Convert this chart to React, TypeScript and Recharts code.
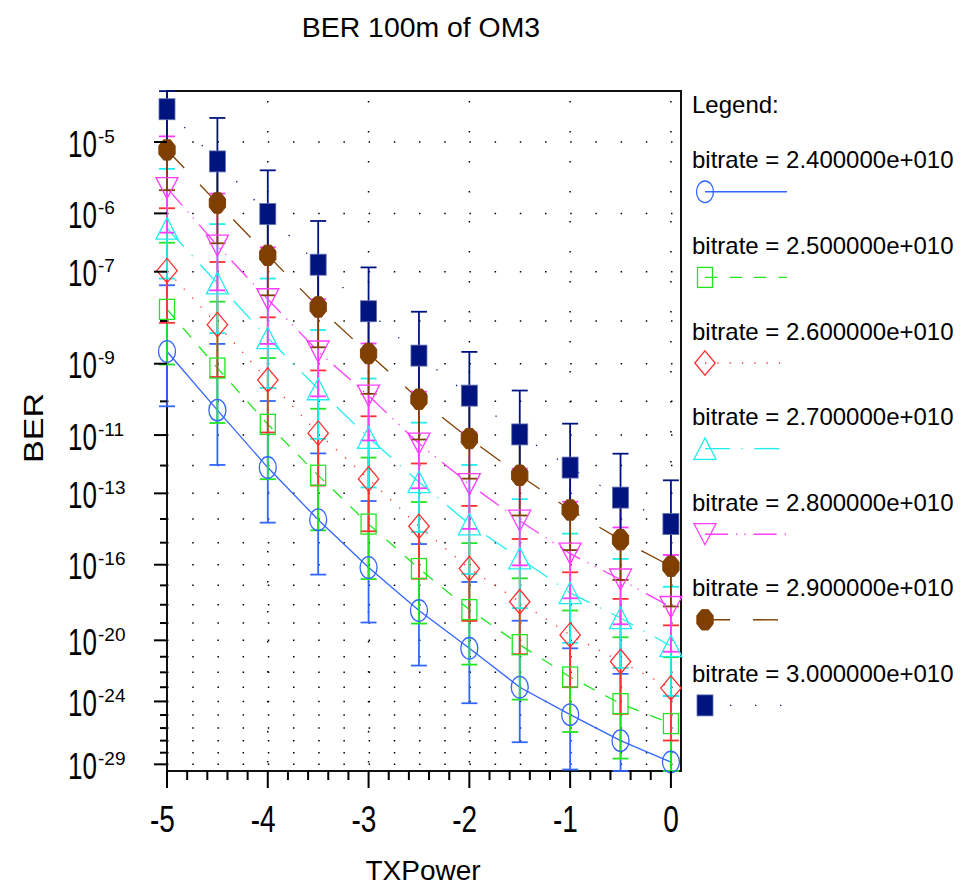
import React from 'react';
import { LineChart, Line, XAxis, YAxis, CartesianGrid, ErrorBar, ReferenceArea } from 'recharts';

const txPower = [-5, -4.5, -4, -3.5, -3, -2.5, -2, -1.5, -1, -0.5, 0];

// log10(BER), one list per bitrate
const logBer24 = [-8.7, -10.25, -12.07, -14.03, -16.13, -18.31, -20.48, -23.0, -24.97, -27.0, -28.8];
const logBer25 = [-7.75, -9.11, -10.67, -12.34, -14.21, -16.18, -18.26, -20.26, -22.31, -24.16, -25.65];
const logBer26 = [-6.98, -8.08, -9.42, -10.94, -12.47, -14.3, -16.18, -17.84, -19.68, -21.3, -23.06];
const logBer27 = [-6.24, -7.22, -8.38, -9.66, -11.08, -12.58, -14.21, -15.7, -17.38, -18.72, -20.34];
const logBer28 = [-5.62, -6.53, -7.54, -8.7, -9.84, -11.27, -12.66, -14.07, -15.49, -16.71, -18.12];
const logBer29 = [-5.1, -5.84, -6.7, -7.7, -8.75, -9.94, -11.11, -12.34, -13.64, -14.87, -16.07];
const logBer30 = [-4.61, -5.25, -6.01, -6.87, -7.79, -8.8, -9.84, -10.98, -12.07, -13.16, -14.21];

// error bar half length, in decades
const err24 = [1.44, 1.73, 2.08, 2.44, 2.84, 3.25, 3.65, 4.13, 4.49, 4.9, 5.2];
const err25 = [1.27, 1.52, 1.81, 2.13, 2.48, 2.85, 3.24, 3.61, 4.0, 4.34, 4.62];
const err26 = [1.06, 1.26, 1.5, 1.77, 2.04, 2.37, 2.7, 3.0, 3.32, 3.61, 3.93];
const err27 = [0.89, 1.05, 1.25, 1.46, 1.7, 1.96, 2.23, 2.48, 2.77, 2.99, 3.27];
const err28 = [0.69, 0.83, 0.98, 1.16, 1.33, 1.54, 1.75, 1.96, 2.17, 2.36, 2.57];
const err29 = [0.55, 0.65, 0.76, 0.9, 1.04, 1.2, 1.35, 1.52, 1.69, 1.86, 2.02];
const err30 = [0.46, 0.54, 0.64, 0.75, 0.87, 1.0, 1.13, 1.28, 1.42, 1.56, 1.69];

const xTicks = [-5, -4.8, -4.6, -4.4, -4.2, -4, -3.8, -3.6, -3.4, -3.2, -3, -2.8, -2.6, -2.4, -2.2, -2, -1.8, -1.6, -1.4, -1.2, -1, -0.8, -0.6, -0.4, -0.2, 0];
const xGridValues = [-5, -4, -3, -2, -1, 0];
const berTickExps = [-5, -6, -7, -8, -9, -10, -11, -12, -13, -14, -15, -16, -17, -18, -19, -20, -21, -22, -23, -24, -25, -26, -27, -28, -29];
const labeledExps = [-5, -6, -7, -9, -11, -13, -16, -20, -24, -29];
// visible window of the BER axis (log10)
const yRangeExp = [-29.59, -4.41];

const FONT = '"Liberation Sans", Arial, sans-serif';

// BER axis: log of (-log10 BER - 1), flipped so high BER sits on top
const toAxis = (logBer: number) => -Math.log(-logBer - 1);
const fromAxis = (v: number) => Math.round(1 + Math.exp(-v));

const yDomain: [number, number] = [toAxis(yRangeExp[0]), toAxis(yRangeExp[1])];
const yTicks = berTickExps.map(toAxis);

type Shape = 'circle' | 'square' | 'diamond' | 'triUp' | 'triDown' | 'octagon' | 'block';

const SERIES: { id: string; name: string; color: string; dash?: string; shape: Shape; logBer: number[]; err: number[] }[] = [
  { id: 's24', name: 'bitrate = 2.400000e+010', color: '#3366ff', shape: 'circle', logBer: logBer24, err: err24 },
  { id: 's25', name: 'bitrate = 2.500000e+010', color: '#22e622', dash: '12.5 12', shape: 'square', logBer: logBer25, err: err25 },
  { id: 's26', name: 'bitrate = 2.600000e+010', color: '#ff3030', dash: '1.3 11', shape: 'diamond', logBer: logBer26, err: err26 },
  { id: 's27', name: 'bitrate = 2.700000e+010', color: '#1eeeee', dash: '25 11.5 1.3 11.5', shape: 'triUp', logBer: logBer27, err: err27 },
  { id: 's28', name: 'bitrate = 2.800000e+010', color: '#ff3cff', dash: '23 8 1.3 7 1.3 8', shape: 'triDown', logBer: logBer28, err: err28 },
  { id: 's29', name: 'bitrate = 2.900000e+010', color: '#7f3f00', dash: '25 23', shape: 'octagon', logBer: logBer29, err: err29 },
  { id: 's30', name: 'bitrate = 3.000000e+010', color: '#001480', dash: '1.3 23.7', shape: 'block', logBer: logBer30, err: err30 },
];

// error ends are cut at the plot frame, like the reference
const lowEnd = yRangeExp[0] + 0.001;
const highEnd = yRangeExp[1] - 0.001;

const rows = txPower.map((x, i) => {
  const row: Record<string, any> = { x };
  SERIES.forEach((s) => {
    const lb = s.logBer[i];
    const d = s.err[i];
    const v = toAxis(lb);
    row[s.id] = v;
    row[s.id + 'Err'] = [v - toAxis(Math.max(lb - d, lowEnd)), toAxis(Math.min(lb + d, highEnd)) - v];
  });
  return row;
});

const Marker = ({ shape, cx, cy, color }: { shape: Shape; cx: number; cy: number; color: string }) => {
  const sw = 1.3;
  switch (shape) {
    case 'circle':
      return <ellipse cx={cx} cy={cy} rx={8.5} ry={10.8} fill="none" stroke={color} strokeWidth={sw} />;
    case 'square':
      return <rect x={cx - 7.5} y={cy - 10} width={15} height={20} fill="none" stroke={color} strokeWidth={sw} />;
    case 'diamond':
      return <polygon points={`${cx},${cy - 12.2} ${cx + 10.2},${cy} ${cx},${cy + 12.2} ${cx - 10.2},${cy}`} fill="none" stroke={color} strokeWidth={sw} />;
    case 'triUp':
      return <polygon points={`${cx},${cy - 10.7} ${cx + 11},${cy + 10.7} ${cx - 11},${cy + 10.7}`} fill="none" stroke={color} strokeWidth={sw} />;
    case 'triDown':
      return <polygon points={`${cx - 11},${cy - 10.5} ${cx + 11},${cy - 10.5} ${cx},${cy + 10.5}`} fill="none" stroke={color} strokeWidth={sw} />;
    case 'octagon': {
      const a = 0.924, b = 0.383, rx = 8.8, ry = 11;
      const pts = [[a, b], [b, a], [-b, a], [-a, b], [-a, -b], [-b, -a], [b, -a], [a, -b]]
        .map(([px, py]) => `${cx + px * rx},${cy + py * ry}`).join(' ');
      return <polygon points={pts} fill={color} stroke={color} strokeWidth={1} />;
    }
    default:
      return <rect x={cx - 8} y={cy - 10.5} width={16} height={21} fill={color} stroke="#6070b0" strokeWidth={0.8} />;
  }
};

const makeDot = (shape: Shape, color: string) => (p: any) => (
  <Marker key={`${shape}-${p.index}`} shape={shape} cx={p.cx} cy={p.cy} color={color} />
);

const renderXTick = (props: any) => {
  const { x, y, payload } = props;
  const v = payload.value;
  const major = Math.abs(v - Math.round(v)) < 1e-6;
  return (
    <g>
      <line x1={x} y1={y} x2={x} y2={y + (major ? 17 : 9)} stroke="#000" strokeWidth={2} />
      {major && (
        <g transform={`translate(${x + 7.8}, ${y + 61}) scale(1, 1.33)`}>
          <text x={0} y={0} textAnchor="end" fontSize={28} fontFamily={FONT} fill="#000">
            {String(Math.round(v))}
          </text>
        </g>
      )}
    </g>
  );
};

const renderYTick = (props: any) => {
  const { x, y, payload } = props;
  const n = fromAxis(payload.value);
  const major = labeledExps.includes(-n);
  return (
    <g>
      <line x1={x - (major ? 13 : 7)} y1={y} x2={x} y2={y} stroke="#000" strokeWidth={2} />
      {major && (
        <>
          <g transform={`translate(${x - 99}, ${y + 14.5}) scale(1, 1.43)`}>
            <text x={0} y={0} fontSize={26} fontFamily={FONT} fill="#000">10</text>
          </g>
          <text x={x - 69} y={y + 0.5} fontSize={19} fontFamily={FONT} fill="#000">{`-${n}`}</text>
        </>
      )}
    </g>
  );
};

const Overlay = () => (
  <svg width={973} height={885} style={{ position: 'absolute', left: 0, top: 0, pointerEvents: 'none' }}>
    <text x={421} y={37} textAnchor="middle" fontSize={28.4} fontFamily={FONT} fill="#000">BER 100m of OM3</text>
    <text x={423} y={880} textAnchor="middle" fontSize={28} fontFamily={FONT} fill="#000">TXPower</text>
    <text x={43} y={428} textAnchor="middle" fontSize={28} fontFamily={FONT} fill="#000" textLength={70}
      lengthAdjust="spacingAndGlyphs" transform="rotate(-90, 43, 428)">BER</text>
    <text x={692} y={113} fontSize={24} fontFamily={FONT} fill="#000">Legend:</text>
    {SERIES.map((s, i) => {
      const base = 168.3 + i * 85.6;
      const ly = base + 23.5;
      return (
        <g key={s.id}>
          <text x={692} y={base} fontSize={24} fontFamily={FONT} fill="#000">{s.name}</text>
          <line x1={705} y1={ly} x2={787} y2={ly} stroke={s.color} strokeWidth={1.4} strokeDasharray={s.dash} />
          <Marker shape={s.shape} cx={705} cy={ly} color={s.color} />
        </g>
      );
    })}
  </svg>
);

export default function App() {
  return (
    <div style={{ position: 'absolute', left: 0, top: 0, width: 973, height: 885, background: '#fff' }}>
      <LineChart width={973} height={885} data={rows} margin={{ top: 91, right: 292, bottom: 0, left: 0 }}>
        <CartesianGrid vertical={false} stroke="#000" strokeWidth={1.5} strokeDasharray="1.5 23.7" />
        <CartesianGrid horizontal={false} verticalValues={xGridValues} stroke="#000" strokeWidth={1.5}
          strokeDasharray="1.5 28.5" strokeDashoffset={-10} />
        <XAxis dataKey="x" type="number" domain={[-5, 0.1]} ticks={xTicks} interval={0} height={114}
          tickSize={0} tickMargin={0} axisLine={false} tickLine={false} tick={renderXTick} />
        <YAxis type="number" domain={yDomain} ticks={yTicks} interval={0} width={167}
          tickSize={0} tickMargin={0} axisLine={false} tickLine={false} tick={renderYTick} />
        {SERIES.map((s) => (
          <Line key={s.id} type="linear" dataKey={s.id} stroke={s.color} strokeWidth={1.3}
            strokeDasharray={s.dash} dot={makeDot(s.shape, s.color)} activeDot={false} isAnimationActive={false} />
        ))}
        {SERIES.map((s) => (
          <Line key={s.id + 'e'} type="linear" dataKey={s.id} stroke="none" dot={false}
            activeDot={false} isAnimationActive={false}>
            <ErrorBar dataKey={s.id + 'Err'} direction="y" width={8} stroke={s.color} strokeWidth={1.8} isAnimationActive={false} />
          </Line>
        ))}
        <ReferenceArea x1={-5} x2={0.1} y1={yDomain[0]} y2={yDomain[1]} fill="none" fillOpacity={0}
          stroke="#111" strokeWidth={2} ifOverflow="visible" />
      </LineChart>
      <Overlay />
    </div>
  );
}
